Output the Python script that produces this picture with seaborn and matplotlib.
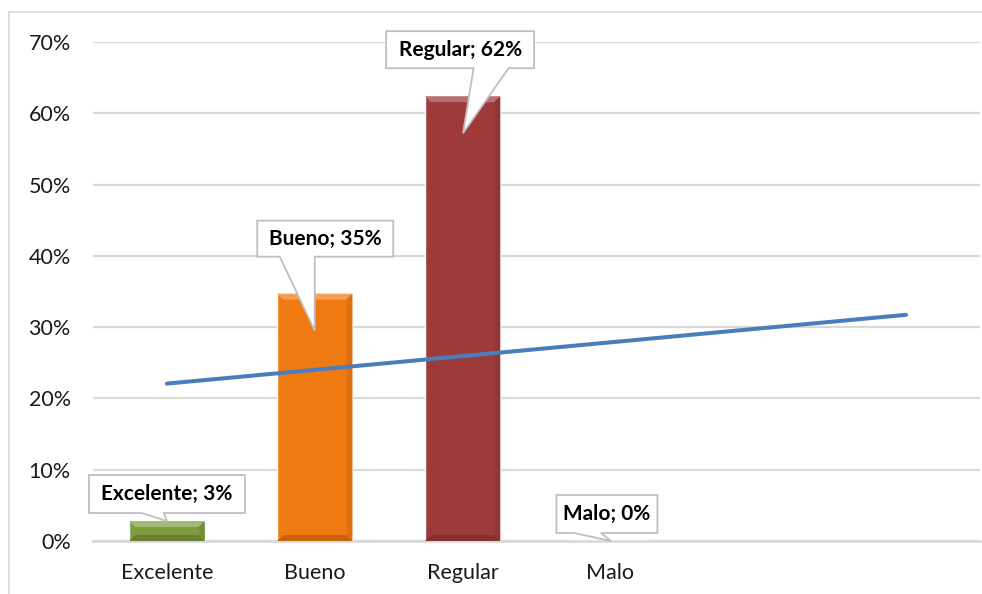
import numpy as np
import pandas as pd
import matplotlib
matplotlib.use("Agg")
import matplotlib.pyplot as plt
import matplotlib.transforms as mtransforms
from matplotlib.path import Path
from matplotlib.patches import PathPatch, Polygon, Rectangle
from matplotlib.ticker import PercentFormatter
import matplotlib.colors as mcolors
import seaborn as sns

# --- data -------------------------------------------------------------
categories = ["Excelente", "Bueno", "Regular", "Malo"]
shares = [0.028, 0.347, 0.624, 0.0]
bar_colors = ["#7E9C3E", "#F07A12", "#9E3B3A"] + ["#8064A2"]
n_slots = 6  # category axis leaves two empty slots for the forecast

df = pd.DataFrame({"categoria": categories, "porcentaje": shares})

# linear trend fitted on the four categories, forecast two periods ahead
slope, intercept = np.polyfit(np.arange(len(shares)), shares, 1)
trend_x = np.array([0, n_slots - 1])
trend_y = intercept + slope * trend_x

# --- style ------------------------------------------------------------
sns.set_theme(style="white")
plt.rcParams["font.family"] = ["Lato", "DejaVu Sans"]

W, H, DPI = 982, 594, 100
fig = plt.figure(figsize=(W / DPI, H / DPI), dpi=DPI)
ax = fig.add_axes([93 / W, (H - 541) / H, (980 - 93) / W, (541 - 42) / H])

sns.barplot(data=df, x="categoria", y="porcentaje", hue="categoria",
            palette=bar_colors, width=0.51, legend=False, ax=ax,
            saturation=1, zorder=3)

ax.set_xlim(-0.5, n_slots - 0.5)
ax.set_ylim(0, 0.70)
ax.set_yticks(np.arange(0, 0.71, 0.10))
ax.yaxis.set_major_formatter(PercentFormatter(1.0, decimals=0))
ax.set_xlabel("")
ax.set_ylabel("")
ax.grid(axis="y", color="#D9D9D9", linewidth=1.6, zorder=0)
ax.set_axisbelow(True)
for side in ["left", "right", "top"]:
    ax.spines[side].set_visible(False)
ax.spines["bottom"].set_color("#D9D9D9")
ax.spines["bottom"].set_linewidth(2.0)
ax.tick_params(axis="both", length=0, labelsize=15.5, colors="#1a1a1a")
ax.tick_params(axis="x", pad=16)
ax.tick_params(axis="y", pad=16)

# bevel shading on each bar
px_per_y = (541 - 42) / 0.70
bdx = 6 / 149
for patch in ax.patches:
    x0, y0 = patch.get_x(), patch.get_y()
    w, h = patch.get_width(), patch.get_height()
    if h <= 0:
        continue
    x1, y1 = x0 + w, y0 + h
    bdy = min(6 / px_per_y, h / 3)
    base = np.array(mcolors.to_rgb(patch.get_facecolor()))
    light = base + (1 - base) * 0.28
    dark = base * 0.82
    ax.add_patch(Polygon([(x0, y1), (x1, y1), (x1 - bdx, y1 - bdy), (x0 + bdx, y1 - bdy)],
                         closed=True, fc=light, ec="none", zorder=4))
    ax.add_patch(Polygon([(x0, y0), (x1, y0), (x1 - bdx, y0 + bdy), (x0 + bdx, y0 + bdy)],
                         closed=True, fc=dark, ec="none", zorder=4))
    ax.add_patch(Polygon([(x1, y0), (x1, y1), (x1 - bdx, y1 - bdy), (x1 - bdx, y0 + bdy)],
                         closed=True, fc=base * 0.92, ec="none", zorder=4))

# trend line
sns.lineplot(x=trend_x, y=trend_y, color="#4A7EBB", linewidth=2.9, ax=ax, zorder=5)

# callout labels: box centre (dx, dy), box size (w, h), pointer base (b1, b2), tip (tx, ty), in pixels
callouts = [
    (0.0, 27, 156, 38, -25, -3, 0, 0),
    (10.5, 55, 136, 36, -35, 0, 0, -37),
    (-2.5, 46.5, 148, 37, 11, 46, 0.5, -37),
    (-3.5, 27, 101, 38, -36.5, -9.5, 0.5, 0),
]
for i, (cat, val) in enumerate(zip(categories, shares)):
    cx, cy, bw, bh, b1, b2, tx, ty = callouts[i]
    top, bot = cy + bh / 2, cy - bh / 2
    left, right = cx - bw / 2, cx + bw / 2
    verts = [(left, top), (right, top), (right, bot), (b2, bot), (tx, ty),
             (b1, bot), (left, bot), (left, top)]
    codes = [Path.MOVETO] + [Path.LINETO] * 6 + [Path.CLOSEPOLY]
    trans = mtransforms.Affine2D() + mtransforms.ScaledTranslation(i, val, ax.transData)
    ax.add_patch(PathPatch(Path(verts, codes), fc="white", ec="#BFBFBF", lw=1.3,
                           transform=trans, zorder=6, clip_on=False))
    ax.annotate(f"{cat}; {round(val * 100):.0f}%", xy=(i, val), xytext=(cx, cy),
                textcoords="offset pixels", ha="center", va="center",
                fontsize=15, fontweight="bold", color="black", zorder=7,
                annotation_clip=False)

# outer chart frame
fig.add_artist(Rectangle((9 / W, -0.1), 1.2, 1 - 12 / H + 0.1, transform=fig.transFigure,
                         fill=False, ec="#D9D9D9", lw=1.2))

fig.savefig("out.png", dpi=DPI, facecolor="white")
